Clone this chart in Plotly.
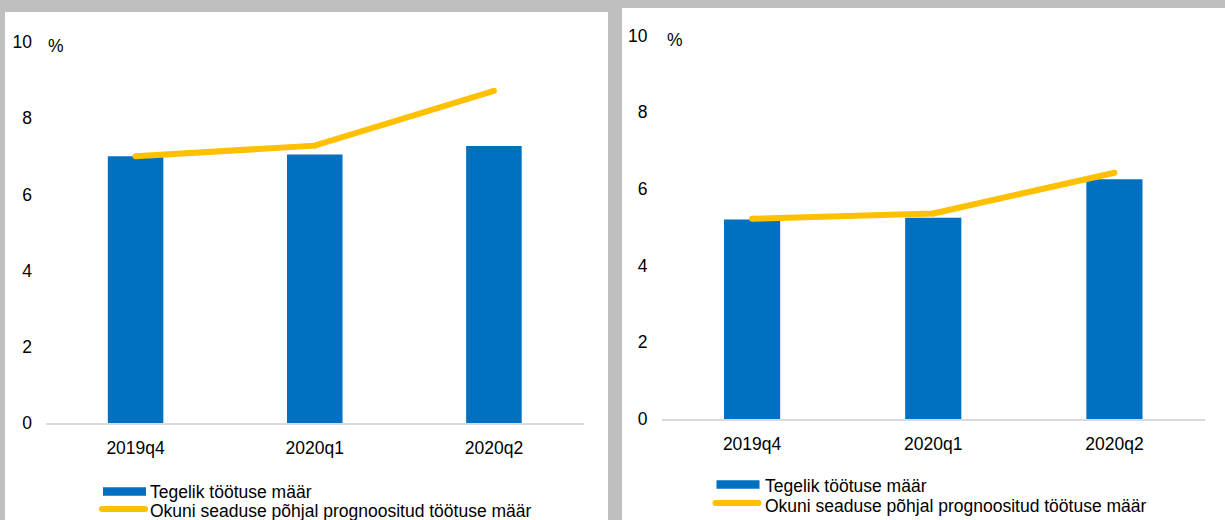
import plotly.graph_objects as go

# Quarterly unemployment: actual rate (bars) vs Okun's-law forecast (line)
quarters = ["2019q4", "2020q1", "2020q2"]
left_actual = [7.0, 7.05, 7.27]
left_okun = [7.0, 7.28, 8.72]
right_actual = [5.2, 5.25, 6.25]
right_okun = [5.22, 5.36, 6.42]
y_ticks = [0, 2, 4, 6, 8, 10]
legend_labels = ["Tegelik töötuse määr", "Okuni seaduse põhjal prognoositud töötuse määr"]

W, H = 1225, 520
BLUE = "#0070C0"
GOLD = "#FFC000"
GREY = "#bfbfbf"
FONT = "Liberation Sans, Arial, sans-serif"
FS = 17.5


def px(x):
    return x / W


def py(y):
    return 1 - y / H


fig = go.Figure()

for actual, okun, xa, ya in [(left_actual, left_okun, "x", "y"),
                             (right_actual, right_okun, "x2", "y2")]:
    fig.add_trace(go.Bar(x=quarters, y=actual, marker_color=BLUE,
                         marker_line_width=0, xaxis=xa, yaxis=ya,
                         showlegend=False, hoverinfo="skip"))
    fig.add_trace(go.Scatter(x=quarters, y=okun, mode="lines+markers",
                             line=dict(color=GOLD, width=6),
                             marker=dict(color=GOLD, size=6),
                             xaxis=xa, yaxis=ya, showlegend=False,
                             hoverinfo="skip"))

xaxis_common = dict(type="category", showgrid=False, zeroline=False,
                    showline=True, linecolor="#d9d9d9", linewidth=1.5,
                    ticks="", tickfont=dict(family=FONT, size=FS, color="#000"),
                    ticklabelstandoff=8, automargin=False, fixedrange=True)
yaxis_common = dict(range=[0, 10], tickvals=y_ticks, showgrid=False,
                    zeroline=False, showline=False, ticks="",
                    tickfont=dict(family=FONT, size=FS, color="#000"),
                    ticklabelstandoff=13, automargin=False, fixedrange=True)

fig.update_layout(
    width=W, height=H,
    margin=dict(l=0, r=0, t=0, b=0, pad=0, autoexpand=False),
    paper_bgcolor=GREY,
    plot_bgcolor="rgba(0,0,0,0)",
    bargap=0.69,
    xaxis=dict(domain=[px(46), px(583.5)], anchor="y", **xaxis_common),
    yaxis=dict(domain=[py(423), py(42)], anchor="x", **yaxis_common),
    xaxis2=dict(domain=[px(661.5), px(1205)], anchor="y2", **xaxis_common),
    yaxis2=dict(domain=[py(419), py(35.5)], anchor="x2", **yaxis_common),
)

shapes = [
    # white chart panels
    dict(type="rect", xref="paper", yref="paper", x0=px(5), x1=px(608),
         y0=0, y1=py(12), fillcolor="white", line_width=0, layer="below"),
    dict(type="rect", xref="paper", yref="paper", x0=px(622), x1=1,
         y0=0, y1=py(8), fillcolor="white", line_width=0, layer="below"),
]
annotations = []

# legend drawn per panel: (swatch left, bar y, line y, text x, text y1, text y2)
for sx, by, ly, tx, t1, t2 in [(103, 491.5, 509, 148, 492, 511),
                               (716.5, 484.5, 503, 763, 486, 506)]:
    shapes.append(dict(type="rect", xref="paper", yref="paper",
                       x0=px(sx), x1=px(sx + 43), y0=py(by + 4.2), y1=py(by - 4.2),
                       fillcolor=BLUE, line_width=0))
    # rounded yellow stroke: body plus two end caps
    lx0, lx1 = sx - 1, sx + 42
    shapes.append(dict(type="rect", xref="paper", yref="paper",
                       x0=px(lx0), x1=px(lx1), y0=py(ly + 3), y1=py(ly - 3),
                       fillcolor=GOLD, line_width=0))
    for cx in (lx0, lx1):
        shapes.append(dict(type="circle", xref="paper", yref="paper",
                           xsizemode="pixel", ysizemode="pixel",
                           xanchor=px(cx), yanchor=py(ly),
                           x0=-3, x1=3, y0=-3, y1=3,
                           fillcolor=GOLD, line_width=0))
    for label, ty in zip(legend_labels, [t1, t2]):
        annotations.append(dict(text=label, xref="paper", yref="paper",
                                x=px(tx), y=py(ty), xanchor="left", yanchor="middle",
                                showarrow=False,
                                font=dict(family=FONT, size=FS, color="#000")))

# unit labels
for x, y in [(56, 46), (675, 40)]:
    annotations.append(dict(text="%", xref="paper", yref="paper", x=px(x), y=py(y),
                            xanchor="center", yanchor="middle", showarrow=False,
                            font=dict(family=FONT, size=FS, color="#000")))

fig.update_layout(shapes=shapes, annotations=annotations)
fig.write_html("out.html")
